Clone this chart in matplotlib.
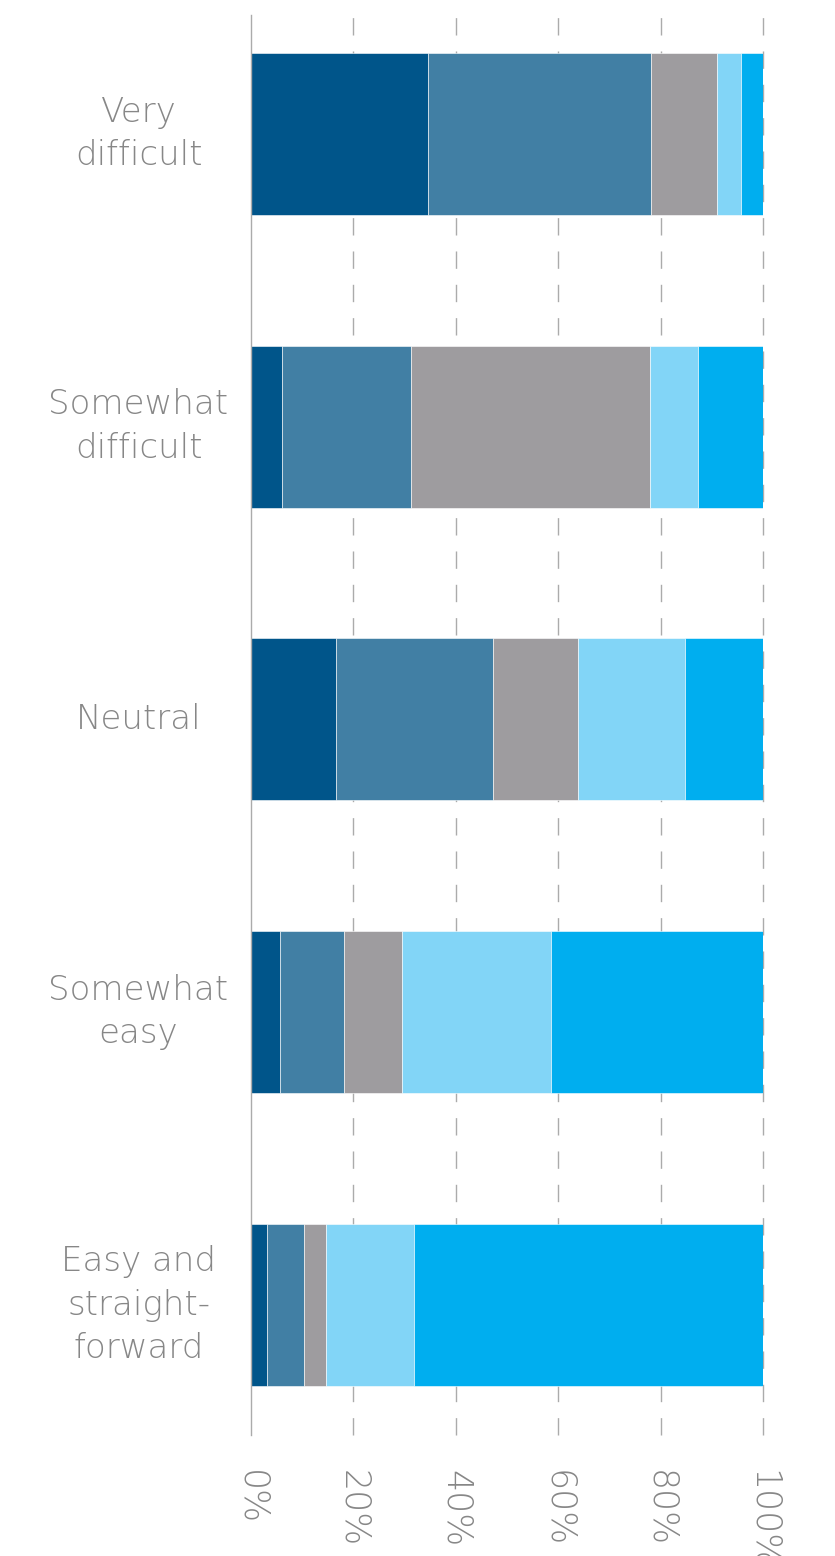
import matplotlib
matplotlib.use("Agg")
import matplotlib.pyplot as plt
import numpy as np

CATEGORIES = ["Very\ndifficult", "Somewhat\ndifficult", "Neutral",
              "Somewhat\neasy", "Easy and\nstraight-\nforward"]

# share of responses (%) per answer level, left to right
LEVEL_1 = [34.5, 6.1, 16.6, 5.6, 3.1]
LEVEL_2 = [43.7, 25.2, 30.6, 12.5, 7.2]
LEVEL_3 = [12.9, 46.6, 16.6, 11.3, 4.3]
LEVEL_4 = [4.6, 9.5, 21.0, 29.1, 17.3]
LEVEL_5 = [4.3, 12.6, 15.2, 41.5, 68.1]

XTICKS = [0, 20, 40, 60, 80, 100]
XTICK_LABELS = ["0%", "20%", "40%", "60%", "80%", "100%"]

COLORS = ["#00558A", "#417FA4", "#9E9C9F", "#82D5F7", "#00AEEF"]
TEXT_GREY = "#878787"
GRID_GREY = "#ABABAB"

plt.rcParams.update({
    "font.family": ["DejaVu Sans"],
    "font.weight": "light",
})

fig = plt.figure(figsize=(8.35, 15.56), dpi=100)
ax = fig.add_axes([251 / 835, 1 - 1435 / 1556, 512 / 835, 1420 / 1556])

y = np.arange(len(CATEGORIES))
left = np.zeros(len(CATEGORIES))
for vals, col in zip([LEVEL_1, LEVEL_2, LEVEL_3, LEVEL_4, LEVEL_5], COLORS):
    vals = np.array(vals)
    ax.barh(y, vals, left=left, height=0.553, color=col,
            edgecolor="white", linewidth=0.4, zorder=2)
    left += vals

ax.set_xlim(0, 100)
ax.set_ylim(4.444, -0.406)

# dashed vertical guides behind the bars
for xv in XTICKS[1:]:
    ax.axvline(xv, color=GRID_GREY, lw=1.0, zorder=0, clip_on=False,
               dashes=(12.5, 11.5), dash_capstyle="butt")

for side in ["top", "right", "bottom"]:
    ax.spines[side].set_visible(False)
ax.spines["left"].set_color(GRID_GREY)
ax.spines["left"].set_linewidth(1.0)

ax.set_xticks(XTICKS)
ax.set_xticklabels(XTICK_LABELS, rotation=-90, ha="center", va="top",
                   fontsize=25, color=TEXT_GREY)
ax.set_yticks(y)
ax.set_yticklabels(CATEGORIES, ha="center", va="center", multialignment="center",
                   fontsize=24.5, color=TEXT_GREY, linespacing=1.4)
ax.tick_params(axis="x", length=0, pad=25)
ax.tick_params(axis="y", length=0, pad=81)

fig.savefig("out.png", dpi=100)
